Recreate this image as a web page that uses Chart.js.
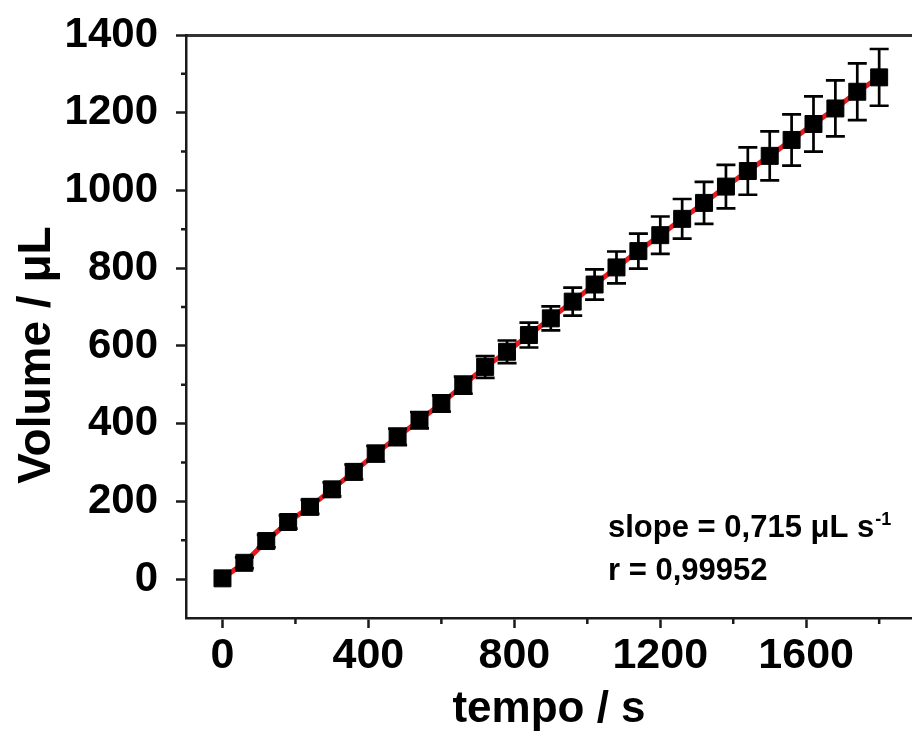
<!DOCTYPE html>
<html>
<head>
<meta charset="utf-8">
<script src="https://cdn.jsdelivr.net/npm/chart.js@4/dist/chart.umd.min.js"></script>
<style>
  body { margin: 0; background: #fff; }
  #chart { display: block; }
</style>
</head>
<body>
<canvas id="chart" width="912" height="744"></canvas>
<script>
// Volume vs tempo - calibration data
const tempo = [0, 60, 120, 180, 240, 300, 360, 420, 480, 540, 600, 660, 720, 780, 840, 900,
               960, 1020, 1080, 1140, 1200, 1260, 1320, 1380, 1440, 1500, 1560, 1620, 1680, 1740, 1800];
const volume = [2, 42, 98, 147, 186, 231, 276, 323, 366, 409, 452, 499, 546, 585, 628, 671,
                714, 758, 802, 844, 885, 927, 968, 1010, 1050, 1089, 1130, 1171, 1211, 1254, 1291];
const volumeErr = [0, 14, 16, 17, 18, 18, 19, 20, 21, 21, 21, 22, 28, 29, 32, 31,
                   36, 39, 41, 45, 48, 51, 54, 56, 61, 63, 66, 71, 72, 73, 73];

const xMajor = [0, 400, 800, 1200, 1600];
const xMinor = [200, 600, 1000, 1400, 1800];
const yMajor = [0, 200, 400, 600, 800, 1000, 1200, 1400];
const yMinor = [100, 300, 500, 700, 900, 1100, 1300];

const xTitle = 'tempo / s';
const yTitle = 'Volume / μL';
const slopeText = 'slope = 0,715 μL s';
const slopeSup = '-1';
const rText = 'r = 0,99952';

const FONT = '"Liberation Sans", Arial, sans-serif';
const AXIS = '#1a1a1a';

// fixed axis box sizes, no label overflow padding
function fixBox(size) {
    return s => {
        if (s.isHorizontal()) s.height = size; else s.width = size;
        s.paddingTop = s.paddingBottom = s.paddingLeft = s.paddingRight = 0;
    };
}

const extras = {
    id: 'extras',
    afterDatasetsDraw(chart) {
        const { ctx, scales: { x, y } } = chart;
        ctx.save();
        ctx.strokeStyle = '#000';
        ctx.lineWidth = 2.7;
        tempo.forEach((t, i) => {
            const e = volumeErr[i];
            if (!e) return;
            const px = x.getPixelForValue(t);
            const top = y.getPixelForValue(volume[i] + e);
            const bot = y.getPixelForValue(volume[i] - e);
            ctx.beginPath();
            ctx.moveTo(px, top); ctx.lineTo(px, bot);
            ctx.moveTo(px - 9.5, top); ctx.lineTo(px + 9.5, top);
            ctx.moveTo(px - 9.5, bot); ctx.lineTo(px + 9.5, bot);
            ctx.stroke();
        });
        ctx.restore();
    },
    afterDraw(chart) {
        const { ctx, chartArea, scales: { x, y } } = chart;
        ctx.save();
        // minor ticks
        ctx.strokeStyle = AXIS;
        ctx.lineWidth = 2.5;
        ctx.beginPath();
        yMinor.forEach(v => {
            const py = y.getPixelForValue(v);
            ctx.moveTo(chartArea.left - 5, py); ctx.lineTo(chartArea.left, py);
        });
        xMinor.forEach(v => {
            const px = x.getPixelForValue(v);
            ctx.moveTo(px, chartArea.bottom); ctx.lineTo(px, chartArea.bottom + 6);
        });
        ctx.stroke();

        ctx.fillStyle = '#000';
        // axis titles
        ctx.font = 'bold 44px ' + FONT;
        ctx.textAlign = 'center';
        ctx.textBaseline = 'alphabetic';
        ctx.fillText(xTitle, (chartArea.left + chartArea.right) / 2, 722);

        ctx.save();
        ctx.translate(50, 355);
        ctx.rotate(-Math.PI / 2);
        ctx.font = 'bold 46px ' + FONT;
        ctx.fillText(yTitle, 0, 0);
        ctx.restore();

        // fit annotation
        ctx.textAlign = 'left';
        ctx.font = 'bold 31px ' + FONT;
        ctx.fillText(slopeText, 608, 537);
        const w = ctx.measureText(slopeText).width;
        ctx.font = 'bold 18px ' + FONT;
        ctx.fillText(slopeSup, 608 + w + 1, 525);
        ctx.font = 'bold 31px ' + FONT;
        ctx.fillText(rText, 608, 580);
        ctx.restore();
    }
};

document.addEventListener('DOMContentLoaded', () => {
    const ctx = document.getElementById('chart');
    new Chart(ctx, {
        type: 'scatter',
        data: {
            datasets: [{
                data: tempo.map((t, i) => ({ x: t, y: volume[i] })),
                showLine: true,
                borderColor: '#e8191f',
                borderWidth: 5,
                pointStyle: 'rect',
                pointRadius: 12,
                pointBackgroundColor: '#000',
                pointBorderColor: '#000',
                pointBorderWidth: 1,
            }]
        },
        options: {
            responsive: false,
            animation: false,
            layout: { autoPadding: false, padding: { top: 35, right: 0, bottom: 0, left: 0 } },
            plugins: { legend: { display: false }, tooltip: { enabled: false } },
            scales: {
                x: {
                    type: 'linear', position: 'bottom', min: -100, max: 1890,
                    afterFit: fixBox(126),
                    afterBuildTicks: s => { s.ticks = xMajor.map(v => ({ value: v })); },
                    ticks: { autoSkip: false, maxRotation: 0, callback: v => String(v),
                             padding: 2, color: '#000', font: { family: FONT, size: 43, weight: 'bold' } },
                    grid: { drawOnChartArea: false, tickLength: 10, tickWidth: 2.5, tickColor: AXIS },
                    border: { color: AXIS, width: 2.5 },
                },
                xTop: {
                    type: 'linear', position: 'top', min: -100, max: 1890,
                    afterFit: fixBox(0),
                    ticks: { display: false },
                    grid: { display: false, drawTicks: false },
                    border: { color: '#333', width: 3 },
                },
                y: {
                    type: 'linear', position: 'left', min: -100, max: 1400,
                    afterFit: fixBox(186),
                    afterBuildTicks: s => { s.ticks = yMajor.map(v => ({ value: v })); },
                    ticks: { autoSkip: false, callback: v => String(v),
                             padding: 18, color: '#000', font: { family: FONT, size: 42, weight: 'bold' } },
                    grid: { drawOnChartArea: false, tickLength: 10, tickWidth: 2.5, tickColor: AXIS },
                    border: { color: AXIS, width: 2.5 },
                },
            }
        },
        plugins: [extras]
    });
});
</script>
</body>
</html>
